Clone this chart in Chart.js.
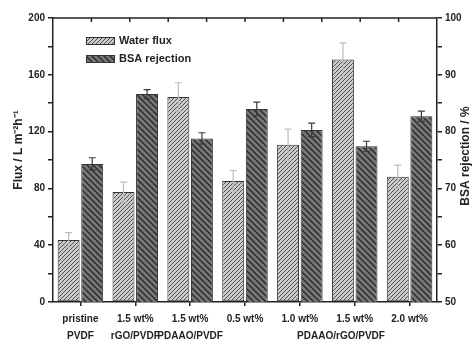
<!DOCTYPE html>
<html>
<head>
<meta charset="utf-8">
<script src="https://cdn.jsdelivr.net/npm/chart.js@4.4.1/dist/chart.umd.min.js"></script>
<style>
  html, body { margin: 0; padding: 0; background: #fff; }
  #wrap { width: 474px; height: 339px; }
</style>
</head>
<body>
<div id="wrap"><canvas id="myChart" width="474" height="339"></canvas></div>
<script>
// datos
const categorias = [
    ['pristine', 'PVDF'],
    ['1.5 wt%', 'rGO/PVDF'],
    ['1.5 wt%', 'PDAAQ/PVDF'],
    ['0.5 wt%', ''],
    ['1.0 wt%', ''],
    ['1.5 wt%', ''],
    ['2.0 wt%', '']
];
const flujoAgua = [43.7, 77.4, 144.4, 85.2, 110.8, 170.7, 88.2];
const errorFlujo = [5.2, 7.0, 10.0, 7.4, 11.0, 11.8, 8.2];
const rechazoBSA = [74.3, 86.6, 78.8, 84.0, 80.3, 77.4, 82.7];
const errorBSA = [1.1, 0.8, 1.0, 1.2, 1.2, 0.9, 0.9];
const ticksFlujo = [0, 40, 80, 120, 160, 200];
const ticksBSA = [50, 60, 70, 80, 90, 100];
const etiquetaGrupo = 'PDAAQ/rGO/PVDF';
const tituloIzq = 'Flux / L m\u207B\u00B2h\u207B\u00B9';
const tituloDer = 'BSA rejection / %';

const colorEje = '#222';
const fuente = "'Liberation Sans', Arial, sans-serif";

//funcion que crea el rayado de las barras
function rayado(fondo, linea, paso, sentido, grosor) {
    const c = document.createElement('canvas');
    c.width = paso; c.height = paso;
    const ctx = c.getContext('2d');
    ctx.fillStyle = fondo;
    ctx.fillRect(0, 0, paso, paso);
    ctx.strokeStyle = linea;
    ctx.lineWidth = grosor;
    ctx.beginPath();
    if (sentido == '/') {
        ctx.moveTo(-1, paso + 1); ctx.lineTo(paso + 1, -1);
        ctx.moveTo(-1, 1); ctx.lineTo(1, -1);
        ctx.moveTo(paso - 1, paso + 1); ctx.lineTo(paso + 1, paso - 1);
    } else {
        ctx.moveTo(-1, -1); ctx.lineTo(paso + 1, paso + 1);
        ctx.moveTo(paso - 1, -1); ctx.lineTo(paso + 1, 1);
        ctx.moveTo(-1, paso - 1); ctx.lineTo(1, paso + 1);
    }
    ctx.stroke();
    return ctx.createPattern(c, 'repeat');
}

const patronFlujo = rayado('#cbcbcb', '#505050', 4, '/', 1);
const patronBSA = rayado('#777777', '#2a2a2a', 6, '\\', 1.4);

// barras de error, marco, ticks de arriba, titulos y leyenda
const extras = {
    id: 'extras',
    afterDatasetsDraw(chart) {
        const ctx = chart.ctx;
        const errores = [errorFlujo, errorBSA];
        const colores = ['#bdbdbd', '#3a3a3a'];
        chart.data.datasets.forEach((ds, i) => {
            const meta = chart.getDatasetMeta(i);
            const escala = chart.scales[meta.yAxisID];
            meta.data.forEach((bar, j) => {
                const v = ds.data[j];
                const yTop = escala.getPixelForValue(v + errores[i][j]);
                const yBot = escala.getPixelForValue(v - errores[i][j]);
                ctx.save();
                ctx.strokeStyle = colores[i];
                ctx.lineWidth = 1.2;
                ctx.beginPath();
                ctx.moveTo(bar.x, yTop); ctx.lineTo(bar.x, yBot);
                ctx.moveTo(bar.x - 3.5, yTop); ctx.lineTo(bar.x + 3.5, yTop);
                ctx.moveTo(bar.x - 3.5, yBot); ctx.lineTo(bar.x + 3.5, yBot);
                ctx.stroke();
                ctx.restore();
            });
        });
    },
    afterDraw(chart) {
        const ctx = chart.ctx;
        const a = chart.chartArea;
        ctx.save();
        ctx.strokeStyle = colorEje;
        ctx.lineWidth = 1.5;
        ctx.beginPath();
        ctx.moveTo(a.left, a.top); ctx.lineTo(a.right, a.top);
        for (let k = 1; k < 10; k++) {
            const x = a.left + k * (a.right - a.left) / 10;
            ctx.moveTo(x, a.top); ctx.lineTo(x, a.top + 4);
        }
        ctx.stroke();

        // leyenda
        const items = [['Water flux', patronFlujo], ['BSA rejection', patronBSA]];
        items.forEach((it, k) => {
            const y = 37 + k * 18;
            ctx.fillStyle = it[1];
            ctx.fillRect(86, y, 29, 8);
            ctx.strokeStyle = '#333';
            ctx.lineWidth = 1;
            ctx.strokeRect(86.5, y + 0.5, 28, 7);
            ctx.fillStyle = colorEje;
            ctx.font = 'bold 11px ' + fuente;
            ctx.textBaseline = 'middle';
            ctx.fillText(it[0], 119, y + 4);
        });

        // etiqueta del grupo PDAAQ/rGO/PVDF
        const xs = chart.scales.x;
        ctx.font = 'bold 10px ' + fuente;
        ctx.textAlign = 'center';
        ctx.textBaseline = 'middle';
        ctx.fillText(etiquetaGrupo, xs.getPixelForValue(4.75), 336);

        // titulos de los ejes, los dos leidos de abajo hacia arriba
        ctx.font = 'bold 12px ' + fuente;
        ctx.save();
        ctx.translate(19, 150);
        ctx.rotate(-Math.PI / 2);
        ctx.fillText(tituloIzq, 0, 0);
        ctx.restore();
        ctx.save();
        ctx.translate(466, 156);
        ctx.rotate(-Math.PI / 2);
        ctx.fillText(tituloDer, 0, 0);
        ctx.restore();
        ctx.restore();
    }
};

const cv = document.querySelector('#myChart').getContext('2d');
const myChart = new Chart(cv, {
    type: 'bar',
    data: {
        labels: categorias,
        datasets: [{
            label: 'Water flux',
            data: flujoAgua,
            yAxisID: 'y',
            backgroundColor: patronFlujo,
            borderColor: '#333',
            borderWidth: 1,
            borderSkipped: false,
            categoryPercentage: 0.86,
            barPercentage: 0.93
        }, {
            label: 'BSA rejection',
            data: rechazoBSA,
            yAxisID: 'y1',
            backgroundColor: patronBSA,
            borderColor: '#333',
            borderWidth: 1,
            borderSkipped: false,
            categoryPercentage: 0.86,
            barPercentage: 0.93
        }]
    },
    options: {
        responsive: false,
        animation: false,
        layout: { padding: { top: 18, left: 0, right: 0, bottom: 0 } },
        plugins: {
            legend: { display: false },
            tooltip: { enabled: false }
        },
        scales: {
            x: {
                offset: true,
                grid: { display: true, drawOnChartArea: false, offset: false, tickLength: 4, color: colorEje, lineWidth: 1.5 },
                border: { color: colorEje, width: 1.5 },
                ticks: { color: colorEje, font: { family: fuente, size: 10, weight: 'bold', lineHeight: 1.7 }, padding: 5, maxRotation: 0, autoSkip: false },
                afterFit: (s) => { s.height = 37; }
            },
            y: {
                position: 'left',
                min: 0, max: 200,
                ticks: {
                    stepSize: 20, color: colorEje, padding: 3,
                    font: { family: fuente, size: 10, weight: 'bold' },
                    callback: (v) => ticksFlujo.includes(v) ? v : ''
                },
                grid: { drawOnChartArea: false, tickLength: 5, color: colorEje, lineWidth: 1.5 },
                border: { color: colorEje, width: 1.5 },
                afterFit: (s) => { s.width = 53; }
            },
            y1: {
                position: 'right',
                min: 50, max: 100,
                ticks: {
                    stepSize: 5, color: colorEje, padding: 3,
                    font: { family: fuente, size: 10, weight: 'bold' },
                    callback: (v) => ticksBSA.includes(v) ? v : ''
                },
                grid: { drawOnChartArea: false, tickLength: 5, color: colorEje, lineWidth: 1.5 },
                border: { color: colorEje, width: 1.5 },
                afterFit: (s) => { s.width = 37; }
            }
        }
    },
    plugins: [extras]
});
</script>
</body>
</html>
